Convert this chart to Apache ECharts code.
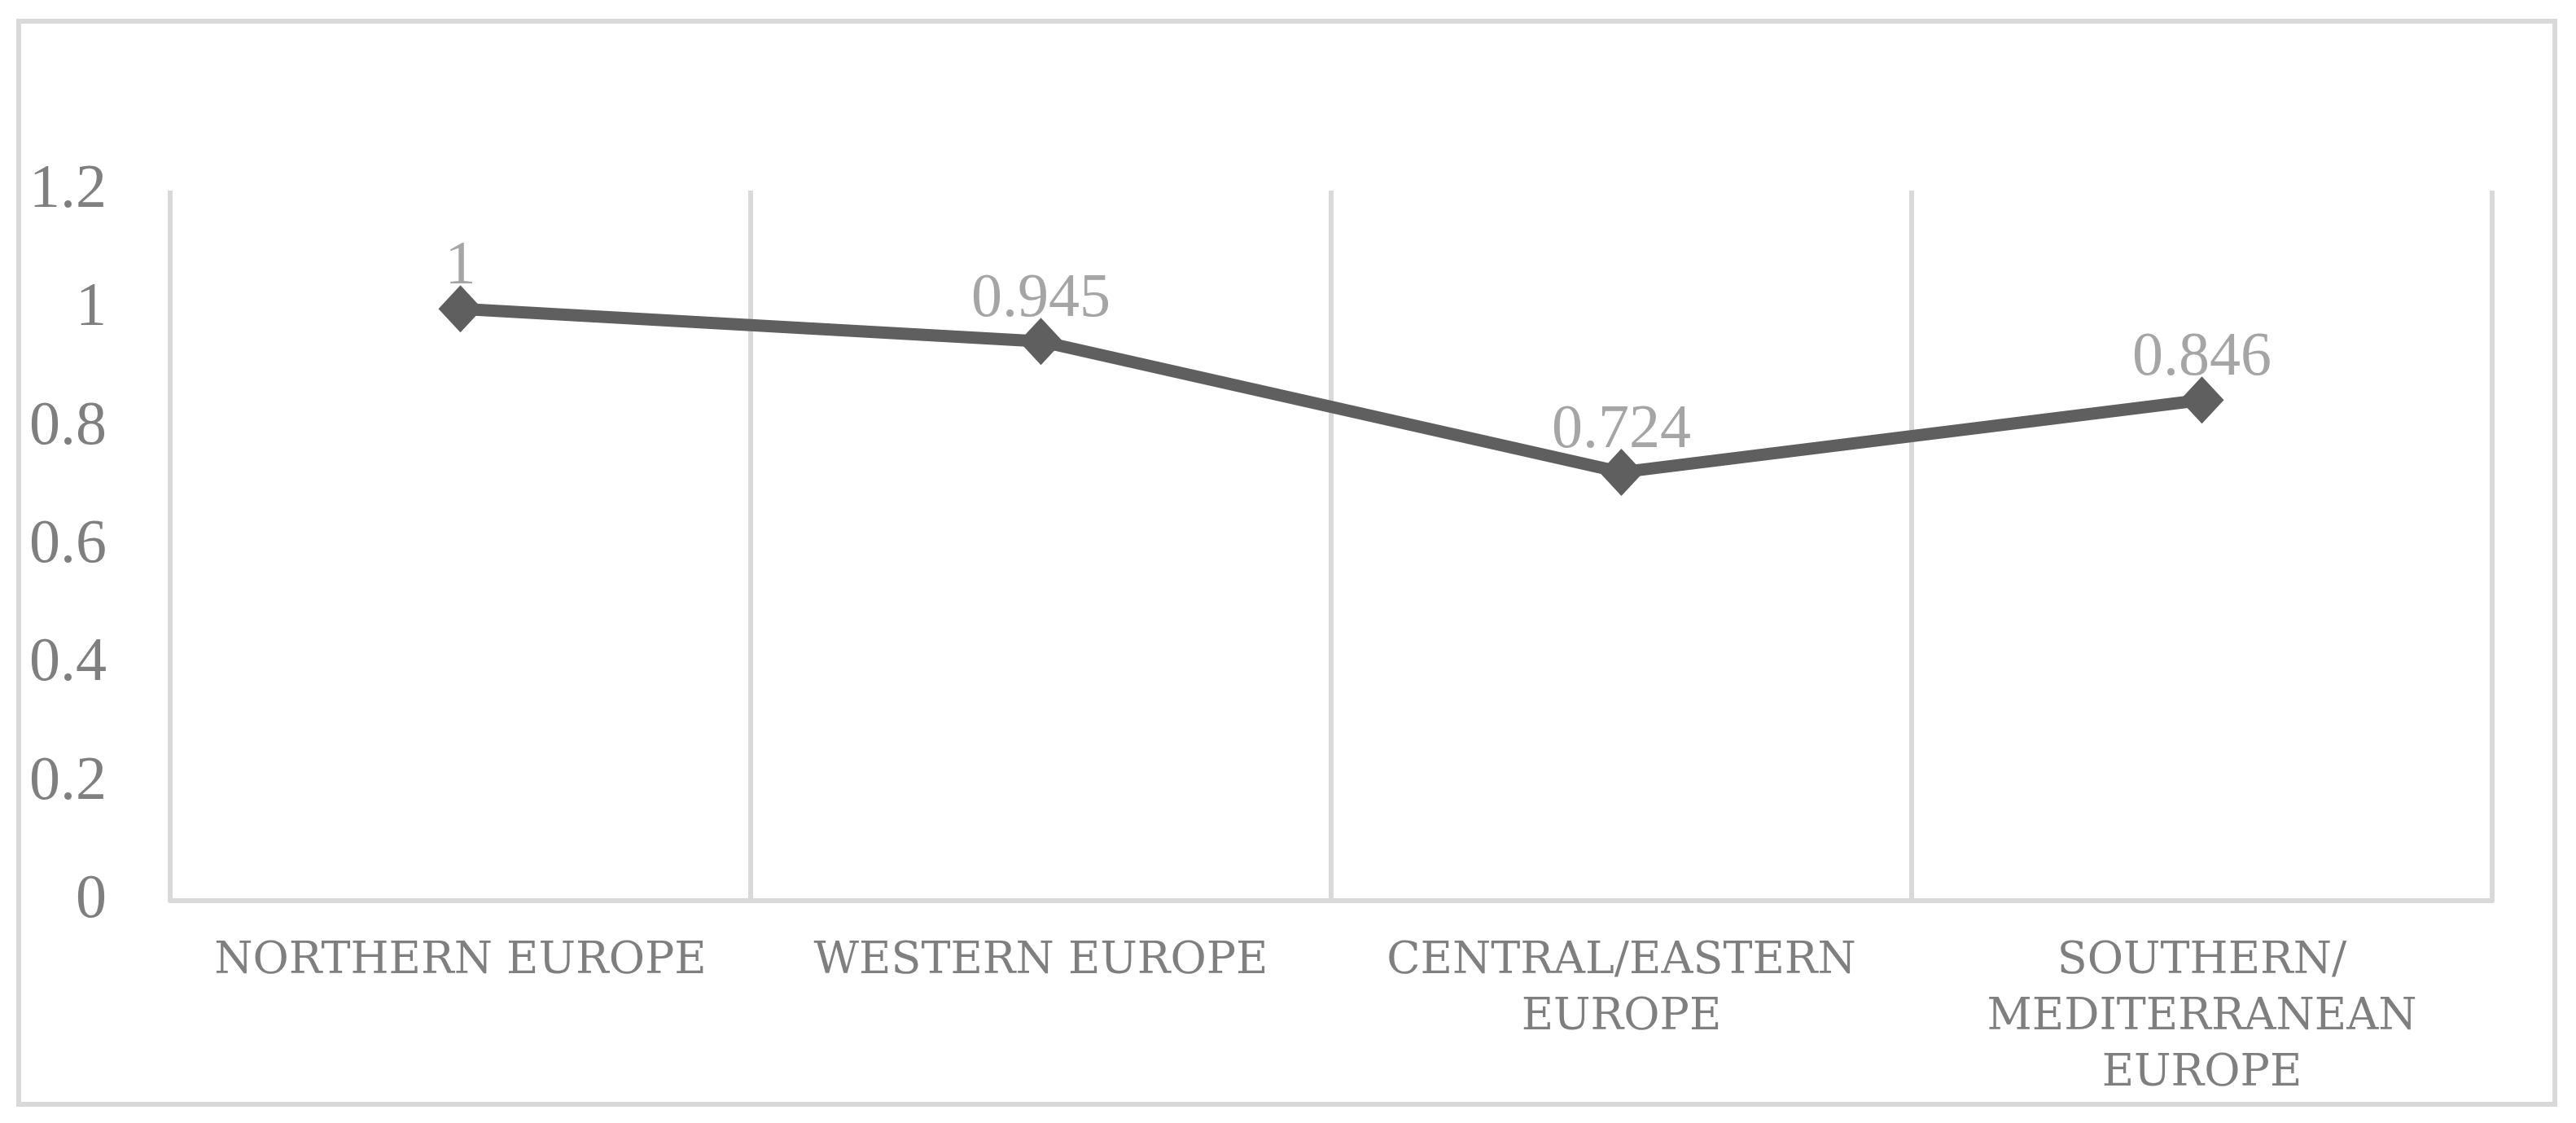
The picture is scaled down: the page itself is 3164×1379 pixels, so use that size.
<!DOCTYPE html>
<html>
<head>
<meta charset="utf-8">
<script src="https://cdn.jsdelivr.net/npm/echarts@6/dist/echarts.min.js"></script>
<style>
  html, body { margin: 0; padding: 0; background: #fff; }
  #chart { width: 3164px; height: 1379px; }
</style>
</head>
<body>
<div id="chart"></div>
<script>
// 区域名称（x 轴）
const regions = [
  "NORTHERN EUROPE",
  "WESTERN EUROPE",
  "CENTRAL/EASTERN\nEUROPE",
  "SOUTHERN/\nMEDITERRANEAN\nEUROPE"
];
// 指数值
const values = [1, 0.945, 0.724, 0.846];
// y 轴刻度
const yTicks = [0, 0.2, 0.4, 0.6, 0.8, 1, 1.2];

const gridColor = "#d9d9d9";
const textColor = "#7f7f7f";

const chart = echarts.init(document.getElementById("chart"));
chart.setOption({
  animation: false,
  backgroundColor: "#fff",
  // 外边框
  graphic: [{
    type: "rect",
    shape: { x: 23, y: 26, width: 3115, height: 1330 },
    style: { fill: "none", stroke: gridColor, lineWidth: 6 },
    silent: true
  }],
  grid: {
    left: 209,
    right: 103,
    top: 234,
    bottom: 273
  },
  xAxis: {
    type: "category",
    data: regions,
    boundaryGap: true,
    axisLine: { lineStyle: { color: gridColor, width: 6 } },
    axisTick: { show: false },
    splitLine: { show: true, lineStyle: { color: gridColor, width: 6 } },
    axisLabel: {
      interval: 0,
      margin: 40,
      color: textColor,
      fontFamily: "DejaVu Serif",
      fontSize: 54,
      lineHeight: 69,
      align: "center"
    }
  },
  yAxis: {
    type: "value",
    min: yTicks[0],
    max: yTicks[yTicks.length - 1],
    interval: 0.2,
    axisLine: { show: false },
    axisTick: { show: false },
    splitLine: { show: false },
    axisLabel: {
      margin: 78,
      color: textColor,
      fontFamily: "Liberation Serif",
      fontSize: 76,
      formatter: v => String(+v.toFixed(1))
    }
  },
  series: [{
    type: "line",
    data: values,
    symbol: "diamond",
    symbolSize: [54, 58],
    lineStyle: { color: "#5f5f5f", width: 15 },
    itemStyle: { color: "#5f5f5f" },
    label: {
      show: true,
      position: "top",
      distance: -16,
      color: "#a5a5a5",
      fontFamily: "Liberation Serif",
      fontSize: 76
    }
  }]
});
</script>
</body>
</html>
